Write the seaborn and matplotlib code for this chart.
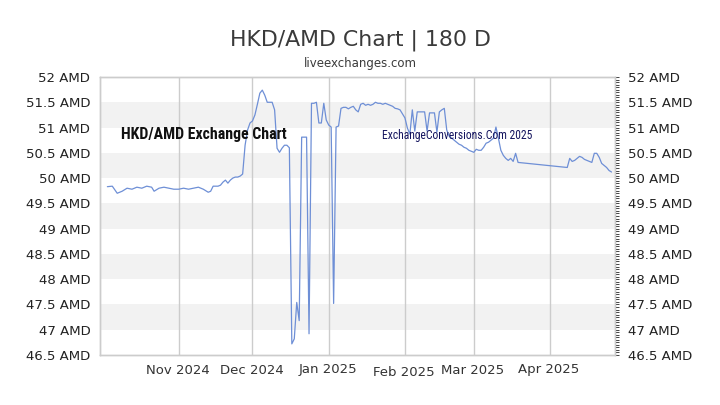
import numpy as np
import pandas as pd
import matplotlib
matplotlib.use("Agg")
import matplotlib.pyplot as plt
import matplotlib.dates as mdates
import matplotlib.transforms as mtransforms
from matplotlib import font_manager
import seaborn as sns
from datetime import datetime

# ---------------- data ----------------
dates = [
    "2024-10-03", "2024-10-05", "2024-10-07", "2024-10-09", "2024-10-11", "2024-10-13",
    "2024-10-15", "2024-10-17", "2024-10-19", "2024-10-21", "2024-10-22", "2024-10-24",
    "2024-10-26", "2024-10-28", "2024-10-30", "2024-11-01", "2024-11-03", "2024-11-05",
    "2024-11-07", "2024-11-09", "2024-11-11", "2024-11-13", "2024-11-14", "2024-11-15",
    "2024-11-17", "2024-11-18", "2024-11-19", "2024-11-20", "2024-11-21", "2024-11-22",
    "2024-11-23", "2024-11-24", "2024-11-25", "2024-11-26", "2024-11-27", "2024-11-28",
    "2024-11-29", "2024-11-30",
    "2024-12-01", "2024-12-02", "2024-12-03", "2024-12-04", "2024-12-05", "2024-12-06",
    "2024-12-07", "2024-12-08", "2024-12-09", "2024-12-10", "2024-12-11", "2024-12-12",
    "2024-12-13", "2024-12-14", "2024-12-15", "2024-12-16", "2024-12-17", "2024-12-18",
    "2024-12-19", "2024-12-20", "2024-12-21", "2024-12-22", "2024-12-23", "2024-12-24",
    "2024-12-25", "2024-12-26", "2024-12-27", "2024-12-28", "2024-12-29", "2024-12-30",
    "2024-12-31", "2025-01-01", "2025-01-02", "2025-01-03", "2025-01-04", "2025-01-05",
    "2025-01-06", "2025-01-07", "2025-01-08", "2025-01-09", "2025-01-10", "2025-01-11",
    "2025-01-12", "2025-01-13", "2025-01-14", "2025-01-15", "2025-01-16", "2025-01-17",
    "2025-01-18", "2025-01-19", "2025-01-20", "2025-01-21", "2025-01-22", "2025-01-23",
    "2025-01-24", "2025-01-25", "2025-01-26", "2025-01-27", "2025-01-28", "2025-01-29",
    "2025-01-30", "2025-01-31", "2025-02-01", "2025-02-02", "2025-02-03", "2025-02-04",
    "2025-02-05", "2025-02-06", "2025-02-07", "2025-02-08", "2025-02-09", "2025-02-10",
    "2025-02-11", "2025-02-12", "2025-02-13", "2025-02-14", "2025-02-15", "2025-02-16",
    "2025-02-17", "2025-02-18", "2025-02-19", "2025-02-20", "2025-02-21", "2025-02-22",
    "2025-02-23", "2025-02-24", "2025-02-25", "2025-02-26", "2025-02-27", "2025-02-28",
    "2025-03-01", "2025-03-02", "2025-03-03", "2025-03-04", "2025-03-05", "2025-03-06",
    "2025-03-07", "2025-03-08", "2025-03-09", "2025-03-10", "2025-03-11", "2025-03-12",
    "2025-03-13", "2025-03-14", "2025-03-15", "2025-03-16", "2025-03-17", "2025-03-18",
    "2025-03-19",
    "2025-04-08", "2025-04-09", "2025-04-10", "2025-04-11", "2025-04-12", "2025-04-13",
    "2025-04-14", "2025-04-15", "2025-04-16", "2025-04-17", "2025-04-18", "2025-04-19",
    "2025-04-20", "2025-04-21", "2025-04-22", "2025-04-23", "2025-04-24", "2025-04-25",
    "2025-04-26",
]
rates = [
    49.83, 49.84, 49.70, 49.74, 49.80, 49.78,
    49.82, 49.80, 49.84, 49.82, 49.74, 49.80,
    49.82, 49.80, 49.78, 49.78, 49.80, 49.78,
    49.80, 49.82, 49.78, 49.72, 49.74, 49.84,
    49.84, 49.86, 49.92, 49.96, 49.90, 49.96,
    50.00, 50.02, 50.02, 50.04, 50.08, 50.65,
    50.95, 51.09,
    51.13, 51.25, 51.46, 51.68, 51.74, 51.64,
    51.50, 51.50, 51.50, 51.35, 50.59, 50.51,
    50.59, 50.65, 50.65, 50.60, 46.72, 46.82,
    47.54, 47.18, 50.81, 50.81, 50.81, 46.92,
    51.48, 51.48, 51.50, 51.09, 51.09, 51.48,
    51.15, 51.05, 51.01, 47.52, 51.01, 51.03,
    51.38, 51.40, 51.40, 51.37, 51.40, 51.42,
    51.35, 51.31, 51.46, 51.48, 51.44, 51.46,
    51.44, 51.46, 51.50, 51.48, 51.48, 51.46,
    51.48, 51.46, 51.44, 51.42, 51.38, 51.37,
    51.35, 51.27, 51.19, 50.99, 50.87, 51.35,
    50.93, 51.31, 51.31, 51.31, 51.31, 50.93,
    51.29, 51.29, 51.29, 50.91, 51.31, 51.35,
    51.38, 50.95, 50.83, 50.79, 50.75, 50.71,
    50.67, 50.65, 50.61, 50.59, 50.55, 50.53,
    50.51, 50.57, 50.55, 50.55, 50.61, 50.69,
    50.71, 50.75, 50.79, 51.01, 50.79, 50.55,
    50.45, 50.39, 50.35, 50.39, 50.33, 50.49,
    50.31,
    50.21, 50.39, 50.33, 50.35, 50.39, 50.43,
    50.41, 50.37, 50.35, 50.33, 50.31, 50.49,
    50.49, 50.41, 50.29, 50.25, 50.21, 50.15,
    50.12,
]
y_ticks = [46.5, 47, 47.5, 48, 48.5, 49, 49.5, 50, 50.5, 51, 51.5, 52]
month_ticks = ["2024-11-01", "2024-12-01", "2025-01-01", "2025-02-01", "2025-03-01", "2025-04-01"]
month_labels = ["Nov 2024", "Dec 2024", "Jan 2025", "Feb 2025", "Mar 2025", "Apr 2025"]
title = "HKD/AMD Chart | 180 D"
subtitle = "liveexchanges.com"
watermark1 = "HKD/AMD Exchange Chart"
watermark2 = "ExchangeConversions.Com 2025"

df = pd.DataFrame({"date": pd.to_datetime(dates), "rate": rates})


def pick_narrow_font():
    """Find a condensed/narrow sans font if one is installed."""
    cands = [("Liberation Sans Narrow", "normal"), ("Roboto Condensed", "normal"),
             ("Open Sans Condensed", "normal"), ("Noto Sans Condensed", "normal"),
             ("DejaVu Sans Condensed", "normal"),
             ("Noto Sans", "condensed"), ("Open Sans", "condensed"),
             ("Roboto", "condensed"), ("DejaVu Sans", "condensed")]
    for fam, stretch in cands:
        try:
            fp = font_manager.FontProperties(family=fam, stretch=stretch, weight="bold")
            path = font_manager.findfont(fp, fallback_to_default=False)
        except Exception:
            continue
        low = path.lower()
        if "narrow" in low or "condensed" in low or "cond" in low:
            return fam, stretch
    return "Roboto", "normal"


# ---------------- figure ----------------
sns.set_theme(style="white")
plt.rcParams["font.family"] = ["DejaVu Sans"]

W, H = 720, 405
fig = plt.figure(figsize=(7.2, 4.05), dpi=100)
L, R, T, B = 100, 615, 77, 355
ax = fig.add_axes([L / W, 1 - B / H, (R - L) / W, (B - T) / H])

# alternating background bands
for lo in y_ticks[1:-1:2]:
    ax.axhspan(lo, lo + 0.5, color="#f2f2f2", zorder=0, lw=0)

sns.lineplot(data=df, x="date", y="rate", ax=ax, color="#6e8fd6", lw=0.9, zorder=3)

ax.set_xlim(datetime(2024, 9, 30), datetime(2025, 4, 27, 10))
ax.set_ylim(y_ticks[0], y_ticks[-1])
ax.set_xlabel("")
ax.set_ylabel("")

# x grid lines at month starts
mt = pd.to_datetime(month_ticks)
ax.set_xticks(mdates.date2num(mt))
ax.set_xticklabels([])
ax.tick_params(axis="x", length=0)
ax.grid(True, axis="x", color="#cccccc", lw=1, zorder=1)
ax.grid(False, axis="y")

# month labels (Feb sits a little lower in the reference)
offsets_px = [(-1, 0), (-1, 0), (-1, 0), (-1, -2.5), (-1, 0), (-1, 0)]
blend = mtransforms.blended_transform_factory(ax.transData, ax.transAxes)
for d, lab, (dx, dy) in zip(mt, month_labels, offsets_px):
    tr = blend + mtransforms.ScaledTranslation(dx / 100, dy / 100, fig.dpi_scale_trans)
    ax.text(mdates.date2num(d), -(370 - B) / (B - T), lab, transform=tr, ha="center",
            va="center", fontsize=9.5, color="#333333")

# y axis labels
ylabels = [f"{v:g} AMD" for v in y_ticks]
ax.set_yticks(y_ticks)
ax.set_yticklabels(ylabels, fontsize=9.5, color="#222222")
ax.tick_params(axis="y", length=0, pad=7)

ax2 = ax.twinx()
ax2.set_ylim(ax.get_ylim())
ax2.set_yticks(y_ticks)
ax2.set_yticklabels(ylabels, fontsize=9.5, color="#222222")
ax2.set_yticks(np.arange(46.5, 52.001, 0.05), minor=True)
ax2.tick_params(axis="y", which="major", length=3, width=0.7, color="#444444", pad=6)
ax2.tick_params(axis="y", which="minor", length=3, width=0.7, color="#444444")
ax2.grid(False)

for a in (ax, ax2):
    for s in a.spines.values():
        s.set_color("#cccccc")
        s.set_linewidth(1)

# titles
fig.text(0.5, 1 - 40 / H, title, ha="center", va="center", fontsize=15.8, color="#3a3a3a")
fig.text(0.5, 1 - 63 / H, subtitle, ha="center", va="center", fontsize=8.5, color="#3a3a3a")

# watermarks (sized to the reference width)
nfam, nstretch = pick_narrow_font()
w1 = fig.text(121 / W, 1 - 135 / H, watermark1, ha="left", va="center",
              fontsize=12, fontweight="bold", color="#111111",
              family=[nfam, "DejaVu Sans"], fontstretch=nstretch, zorder=5)
w2 = fig.text(382 / W, 1 - 136 / H, watermark2, ha="left", va="center",
              fontsize=10, color="#14145e",
              family=[nfam, "DejaVu Sans"], fontstretch=nstretch, zorder=5)
fig.canvas.draw()
for t, target in ((w1, 166), (w2, 150)):
    wpx = t.get_window_extent().width
    t.set_fontsize(t.get_fontsize() * target / wpx)

fig.savefig("out.png", dpi=100)
